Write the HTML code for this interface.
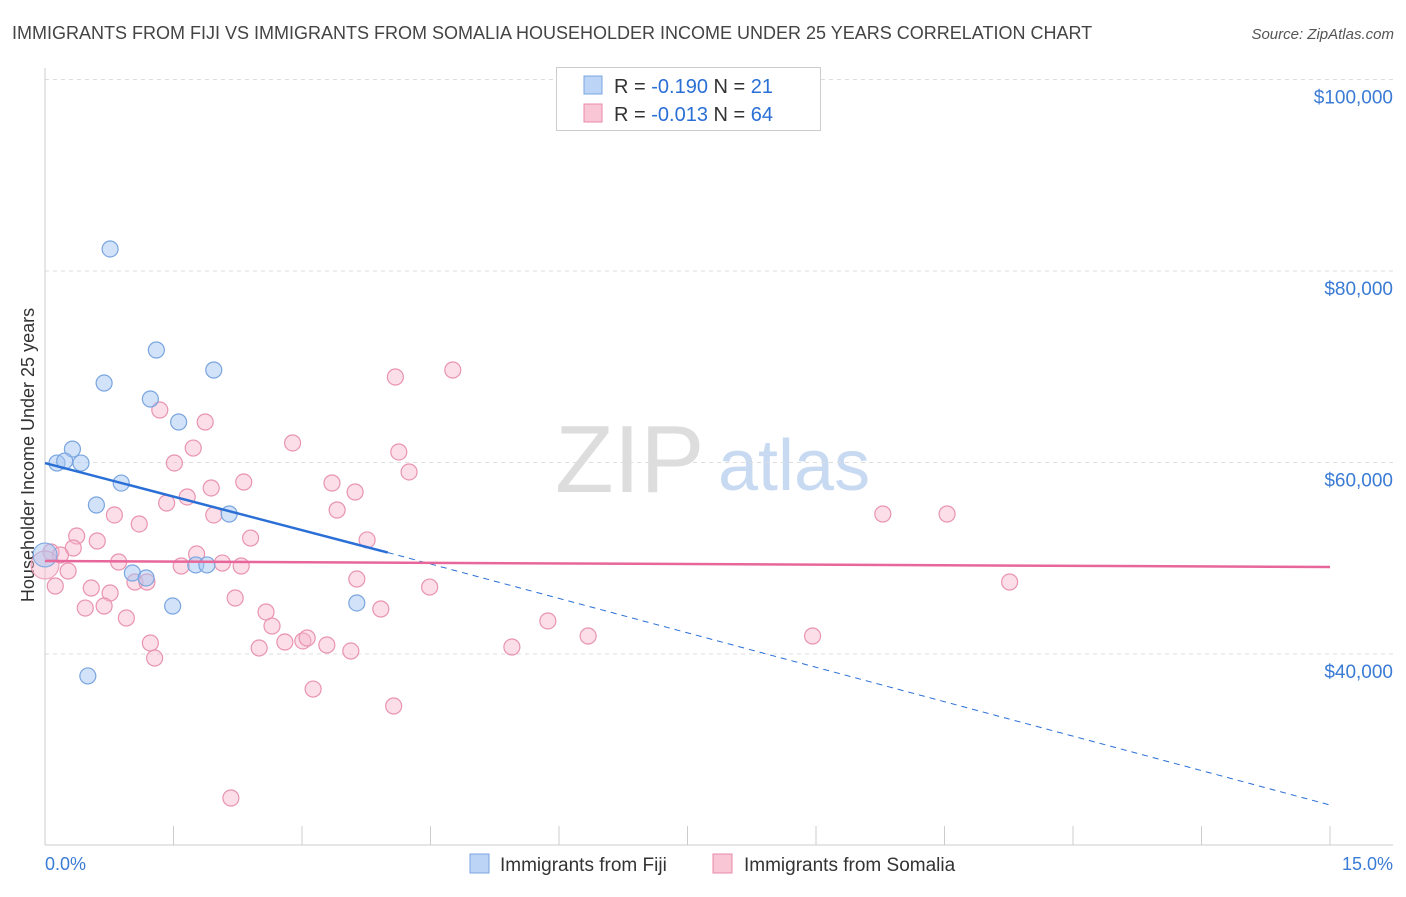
<!DOCTYPE html>
<html><head><meta charset="utf-8"><style>
body{margin:0;background:#fff;font-family:"Liberation Sans",sans-serif;}
svg text{font-family:"Liberation Sans",sans-serif;}
</style></head><body>
<svg id="c" width="1406" height="892">
<text x="12" y="39" font-size="18" fill="#444">IMMIGRANTS FROM FIJI VS IMMIGRANTS FROM SOMALIA HOUSEHOLDER INCOME UNDER 25 YEARS CORRELATION CHART</text>
<text x="1394" y="39" font-size="15" fill="#555" font-style="italic" text-anchor="end">Source: ZipAtlas.com</text>
<text transform="translate(34,455) rotate(-90)" font-size="18" fill="#333" text-anchor="middle">Householder Income Under 25 years</text>
<text x="555" y="492" font-size="96" fill="#ddd" font-family="Liberation Serif">ZIP</text>
<text x="718" y="490" font-size="72" fill="#c8daf2">atlas</text>
<g id="grid"></g><g id="pts"></g><g id="lines"></g>
<g>
<rect x="556.500" y="67.500" width="264" height="63" fill="#fff" stroke="#ccc"/>
<rect x="584" y="76" width="18" height="18" fill="#bcd4f6" stroke="#7aa6e0"/>
<rect x="584" y="104" width="18" height="18" fill="#f9c6d6" stroke="#e88aa8"/>
<text x="614" y="93" font-size="20" fill="#333">R = <tspan fill="#2a6fd6">-0.190</tspan>   N =  <tspan fill="#2a6fd6">21</tspan></text>
<text x="614" y="121" font-size="20" fill="#333">R = <tspan fill="#2a6fd6">-0.013</tspan>   N = <tspan fill="#2a6fd6">64</tspan></text>
</g>
<g>
<rect x="470" y="854" width="19" height="19" fill="#bcd4f6" stroke="#7aa6e0"/>
<text x="500" y="871" font-size="19" fill="#333">Immigrants from Fiji</text>
<rect x="713" y="854" width="19" height="19" fill="#f9c6d6" stroke="#e88aa8"/>
<text x="744" y="871" font-size="19" fill="#333">Immigrants from Somalia</text>
</g>
<text x="45" y="870" font-size="18" fill="#3a7bd5">0.0%</text>
<text x="1393" y="870" font-size="18" fill="#3a7bd5" text-anchor="end">15.0%</text>
</svg>
<script>
const yTicks=[40000,60000,80000,100000];
const yTickLabels=["$40,000","$60,000","$80,000","$100,000"];
const fijiX=[0.76,1.30,0.69,1.97,1.23,1.56,0.32,0.14,0.23,0.42,0.89,0.60,2.15,1.02,1.18,1.76,1.89,1.49,3.64,0.50];
const fijiY=[82300,71750,68300,69660,66630,64230,61400,59940,60150,59940,57850,55560,54620,48460,47940,49300,49300,45010,45330,37710];
const somX=[1.34,1.87,2.89,1.73,1.51,4.13,4.25,2.32,1.94,3.35,3.62,1.66,1.42,3.41,1.97,0.81,1.10,0.37,0.61,2.40,3.76,0.33,0.07,0.18,0.86,1.77,1.59,2.07,2.29,0.27,3.64,1.05,1.19,0.54,0.76,4.49,2.22,0.47,0.69,2.58,3.92,0.95,2.65,5.87,6.34,1.23,2.80,3.01,3.06,3.29,2.50,3.57,5.45,1.28,3.13,4.07,2.17,4.09,4.76,9.78,10.53,11.26,8.96,0.12];
const somY=[65480,64230,62040,61510,59950,61100,59010,57960,57340,57860,56920,56400,55770,55040,54520,54520,53580,52320,51800,52110,51910,51070,50650,50340,49610,50440,49190,49500,49190,48670,47830,47520,47520,46890,46370,46990,45850,44800,45010,44390,44700,43760,42920,43450,41880,41150,41250,41360,41670,40940,40630,40310,40730,39580,36340,34570,24960,68930,69660,54620,54620,47520,41880,47100];
const fijiBig=[0,50340], somBig=[0,49290];
const fijiTrend=[[0,59940],[4.0,50600],[15,24230]];
const somTrend=[[0,49710],[15,49080]];
const X=v=>45+v/15*1285, Y=v=>79.5+(100000-v)/20000*191.5;
const NS="http://www.w3.org/2000/svg";
function mk(t,a,p){const e=document.createElementNS(NS,t);for(const k in a)e.setAttribute(k,a[k]);p.appendChild(e);return e;}
const g=document.getElementById('grid');
yTicks.forEach((t,i)=>{const l=mk('line',{x1:45,x2:1393,y1:Y(t),y2:Y(t),stroke:'#ddd','stroke-dasharray':'4,4'},g);

const tx=mk('text',{x:1393,y:Y(t)+24,'font-size':19,fill:'#3a7bd5','text-anchor':'end'},g);tx.textContent=yTickLabels[i];
});
const ax=mk('line',{x1:45,x2:45,y1:68,y2:845,stroke:'#ccc'},g);
const bx=mk('line',{x1:45,x2:1393,y1:845,y2:845,stroke:'#ccc'},g);
for(let i=0;i<=10;i++){const t=mk('line',{x1:X(i*1.5),x2:X(i*1.5),y1:826,y2:845,stroke:'#ccc'},g);}
const p=document.getElementById('pts');
somX.forEach((x,i)=>{const c=mk('circle',{cx:X(x),cy:Y(somY[i]),r:8,fill:'rgba(246,182,204,0.45)',stroke:'#e993b0','stroke-width':1.2},p);
});
fijiX.forEach((x,i)=>{const c=mk('circle',{cx:X(x),cy:Y(fijiY[i]),r:8,fill:'rgba(165,198,242,0.5)',stroke:'#79a5e0','stroke-width':1.2},p);
});
let c1=mk('circle',{cx:X(somBig[0]),cy:Y(somBig[1]),r:14,fill:'rgba(246,182,204,0.45)',stroke:'#e993b0'},p);

let c2=mk('circle',{cx:X(fijiBig[0]),cy:Y(fijiBig[1]),r:12,fill:'rgba(165,198,242,0.5)',stroke:'#79a5e0'},p);

const L=document.getElementById('lines');
let l1=mk('line',{x1:X(fijiTrend[0][0]),y1:Y(fijiTrend[0][1]),x2:X(fijiTrend[1][0]),y2:Y(fijiTrend[1][1]),stroke:'#2a6fd6','stroke-width':2.5},L);

let l2=mk('line',{x1:X(fijiTrend[1][0]),y1:Y(fijiTrend[1][1]),x2:X(fijiTrend[2][0]),y2:Y(fijiTrend[2][1]),stroke:'#2a6fd6','stroke-width':1,'stroke-dasharray':'6,5'},L);

let l3=mk('line',{x1:X(somTrend[0][0]),y1:Y(somTrend[0][1]),x2:X(somTrend[1][0]),y2:Y(somTrend[1][1]),stroke:'#e8679a','stroke-width':2.5},L);

</script>
</body></html>
